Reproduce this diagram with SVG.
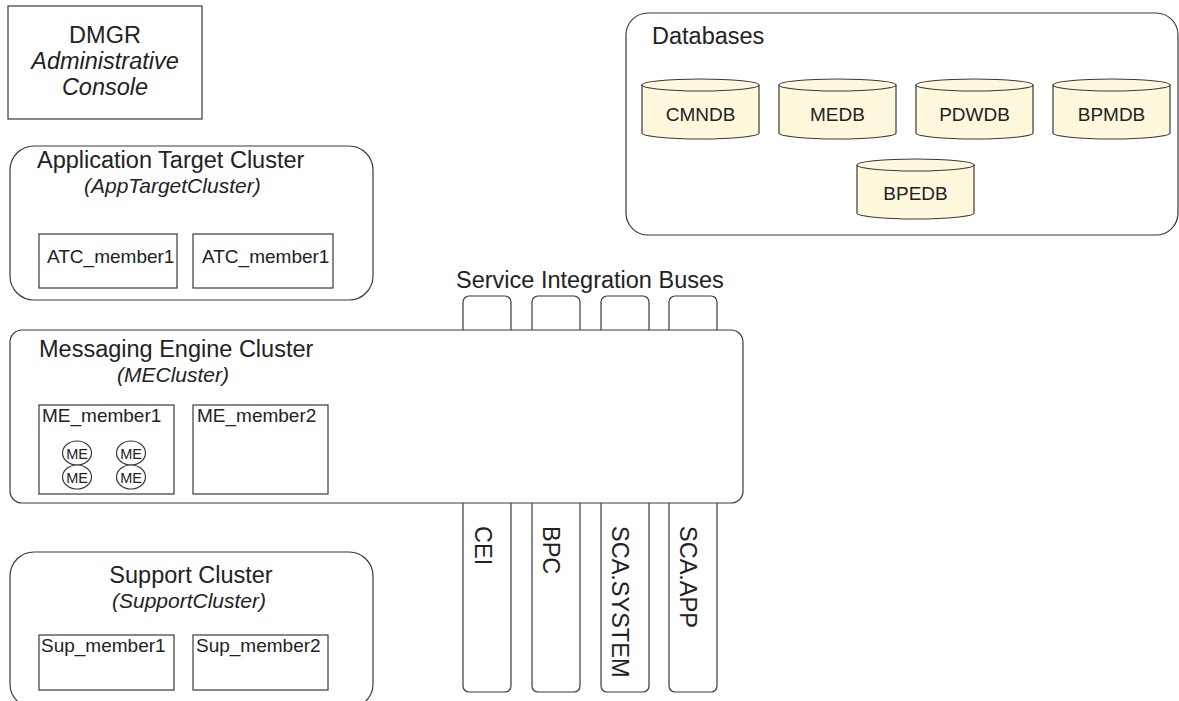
<svg xmlns="http://www.w3.org/2000/svg" xmlns:xlink="http://www.w3.org/1999/xlink" width="1179" height="701" viewBox="0 0 1179 701">
<style>
  .box { fill: #ffffff; stroke: #3a3a3a; stroke-width: 1.2; }
  .cyl { fill: #fff8dd; stroke: #3a3a3a; stroke-width: 1.2; }
  text { font-family: "Liberation Sans", Arial, Helvetica, sans-serif; fill: #222222; }
  .t1 { font-size: 23.5px; }
  .it1 { font-size: 23.5px; font-style: italic; }
  .it2 { font-size: 21px; font-style: italic; }
  .t2 { font-size: 19px; }
  .me { font-size: 14.5px; text-anchor: middle; }
  .mid { text-anchor: middle; }
</style>
<defs>
  <g id="cylinder">
    <path class="cyl" d="M0,6 L0,54 A58.5,6 0 0 0 117,54 L117,6"/>
    <ellipse class="cyl" cx="58.5" cy="6" rx="58.5" ry="6"/>
  </g>
</defs>
<rect width="1179" height="701" fill="#ffffff"/>

<g id="dmgr">
  <rect class="box" x="8" y="6" width="194" height="113"/>
  <text class="t1 mid" x="105" y="43">DMGR</text>
  <text class="it1 mid" x="105" y="69">Administrative</text>
  <text class="it1 mid" x="105" y="95">Console</text>
</g>

<g id="databases">
  <rect class="box" x="626" y="13" width="552" height="222" rx="22" ry="22"/>
  <text class="t1" x="652" y="44">Databases</text>
  <g id="db-cmndb">
    <use xlink:href="#cylinder" href="#cylinder" x="642" y="79"/>
    <text class="t2 mid" x="700.5" y="121">CMNDB</text>
  </g>
  <g id="db-medb">
    <use xlink:href="#cylinder" href="#cylinder" x="779" y="79"/>
    <text class="t2 mid" x="837.5" y="121">MEDB</text>
  </g>
  <g id="db-pdwdb">
    <use xlink:href="#cylinder" href="#cylinder" x="916" y="79"/>
    <text class="t2 mid" x="974.5" y="121">PDWDB</text>
  </g>
  <g id="db-bpmdb">
    <use xlink:href="#cylinder" href="#cylinder" x="1053" y="79"/>
    <text class="t2 mid" x="1111.5" y="121">BPMDB</text>
  </g>
  <g id="db-bpedb">
    <use xlink:href="#cylinder" href="#cylinder" x="857" y="159"/>
    <text class="t2 mid" x="915.5" y="200">BPEDB</text>
  </g>
</g>

<g id="app-target-cluster">
  <rect class="box" x="10" y="146" width="363" height="154" rx="24" ry="24"/>
  <text class="t1" x="37" y="168">Application Target Cluster</text>
  <text class="it2" x="84" y="193">(AppTargetCluster)</text>
  <g id="atc-member1a">
    <rect class="box" x="39" y="234" width="138" height="54"/>
    <text class="t2" x="47" y="263">ATC_member1</text>
  </g>
  <g id="atc-member1b">
    <rect class="box" x="193" y="234" width="140" height="54"/>
    <text class="t2" x="202" y="263">ATC_member1</text>
  </g>
</g>

<g id="buses">
  <text class="t1" x="456" y="288">Service Integration Buses</text>
  <g id="bus-cei">
    <rect class="box" x="463" y="296" width="48" height="396" rx="6" ry="6"/>
    <text class="t1" transform="translate(475,526) rotate(90)">CEI</text>
  </g>
  <g id="bus-bpc">
    <rect class="box" x="532" y="296" width="48" height="396" rx="6" ry="6"/>
    <text class="t1" transform="translate(543,526) rotate(90)">BPC</text>
  </g>
  <g id="bus-scasystem">
    <rect class="box" x="601" y="296" width="48" height="396" rx="6" ry="6"/>
    <text class="t1" transform="translate(612,526) rotate(90)">SCA.SYSTEM</text>
  </g>
  <g id="bus-scaapp">
    <rect class="box" x="669" y="296" width="48" height="396" rx="6" ry="6"/>
    <text class="t1" transform="translate(680,526) rotate(90)">SCA.APP</text>
  </g>
</g>

<g id="me-cluster">
  <rect class="box" x="10" y="330" width="733" height="173" rx="12" ry="12"/>
  <text class="t1" x="39" y="357">Messaging Engine Cluster</text>
  <text class="it2" x="117" y="382">(MECluster)</text>
  <g id="me-member1">
    <rect class="box" x="39" y="405" width="135" height="89"/>
    <text class="t2" x="42" y="422">ME_member1</text>
    <ellipse class="box" cx="77" cy="453" rx="14.5" ry="12"/>
    <text class="me" x="77" y="458.5">ME</text>
    <ellipse class="box" cx="131" cy="453" rx="14.5" ry="12"/>
    <text class="me" x="131" y="458.5">ME</text>
    <ellipse class="box" cx="77" cy="477" rx="14.5" ry="12"/>
    <text class="me" x="77" y="482.5">ME</text>
    <ellipse class="box" cx="131" cy="477" rx="14.5" ry="12"/>
    <text class="me" x="131" y="482.5">ME</text>
  </g>
  <g id="me-member2">
    <rect class="box" x="193" y="405" width="135" height="89"/>
    <text class="t2" x="197" y="422">ME_member2</text>
  </g>
</g>

<g id="support-cluster">
  <rect class="box" x="10" y="552" width="363" height="156" rx="24" ry="24"/>
  <text class="t1 mid" x="191" y="583">Support Cluster</text>
  <text class="it2 mid" x="189" y="608">(SupportCluster)</text>
  <g id="sup-member1">
    <rect class="box" x="39" y="635" width="135" height="55"/>
    <text class="t2" x="41" y="652">Sup_member1</text>
  </g>
  <g id="sup-member2">
    <rect class="box" x="193" y="635" width="135" height="55"/>
    <text class="t2" x="196" y="652">Sup_member2</text>
  </g>
</g>

<g id="connectors"></g>
</svg>
